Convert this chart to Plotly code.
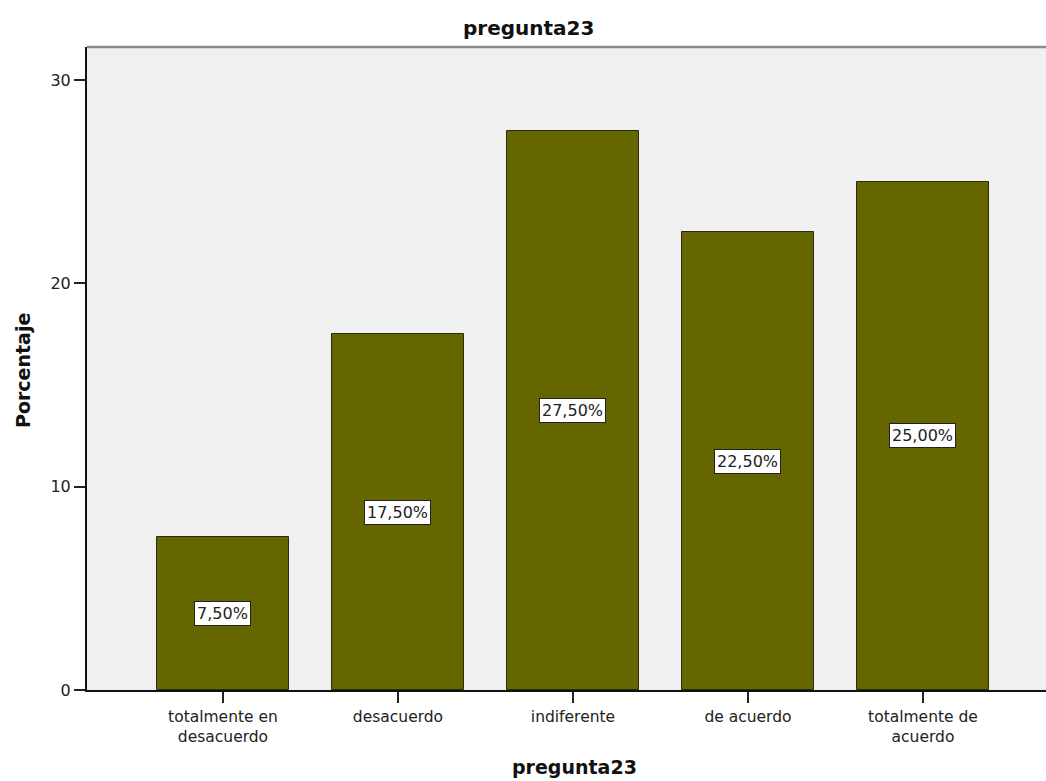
import plotly.graph_objects as go

# Respuestas de la pregunta 23 (porcentaje de encuestados)
categorias = ["totalmente en<br>desacuerdo", "desacuerdo", "indiferente",
              "de acuerdo", "totalmente de<br>acuerdo"]
porcentajes = [7.5, 17.5, 27.5, 22.5, 25.0]
etiquetas = ["7,50%", "17,50%", "27,50%", "22,50%", "25,00%"]
ticks_y = [0, 10, 20, 30]

FONT = "DejaVu Sans, Verdana, sans-serif"

# Geometría del lienzo (píxeles)
W, H = 1046, 781
L, R, T, B = 87, 0, 47, 91
pw, ph = W - L - R, H - T - B


def px_x(x):
    return (x - L) / pw


def px_y(y):
    return (H - y - B) / ph


fig = go.Figure()
fig.add_trace(go.Bar(
    x=list(range(len(categorias))),
    y=porcentajes,
    width=0.754,
    marker=dict(color="#666600", line=dict(color="#2a2a10", width=1)),
    hoverinfo="skip",
))

# Etiquetas de valor en cajas blancas, centradas en cada barra
for i, (v, t) in enumerate(zip(porcentajes, etiquetas)):
    fig.add_annotation(
        x=i, y=v / 2, xref="x", yref="y", text=t, showarrow=False,
        xanchor="center", yanchor="middle",
        font=dict(family=FONT, size=16, color="#222"),
        bgcolor="white", bordercolor="#222", borderwidth=1, borderpad=2,
    )

# Títulos
titulos = [
    ("<b>pregunta23</b>", 528, 28, 0, 20),
    ("<b>pregunta23</b>", 574, 767, 0, 19),
    ("<b>Porcentaje</b>", 23, 371, -90, 19),
]
for texto, x, y, ang, size in titulos:
    fig.add_annotation(x=px_x(x), y=px_y(y), xref="paper", yref="paper",
                       text=texto, textangle=ang, showarrow=False,
                       xanchor="center", yanchor="middle",
                       font=dict(family=FONT, size=size, color="#111"))

fig.update_layout(
    width=W, height=H,
    margin=dict(l=L, r=R, t=T, b=B, pad=0),
    paper_bgcolor="white",
    plot_bgcolor="#f0f0f0",
    showlegend=False,
    bargap=0,
    xaxis=dict(
        range=[-0.777, 4.703],
        tickmode="array",
        tickvals=list(range(len(categorias))),
        ticktext=categorias,
        ticks="outside", ticklen=11, tickwidth=2, tickcolor="#222",
        showline=True, linecolor="#111", linewidth=2,
        showgrid=False, zeroline=False,
        tickfont=dict(family=FONT, size=15.5, color="#222"),
    ),
    yaxis=dict(
        range=[0, 31.62],
        tickmode="array",
        tickvals=ticks_y,
        ticks="outside", ticklen=11, tickwidth=2, tickcolor="#222",
        showline=True, linecolor="#111", linewidth=2,
        showgrid=False, zeroline=False,
        tickfont=dict(family=FONT, size=16, color="#222"),
    ),
    shapes=[dict(type="line", xref="paper", yref="paper", x0=0, x1=1, y0=1, y1=1,
                 line=dict(color="#8a8a8a", width=2.5))],
)

fig.write_html("out.html")
